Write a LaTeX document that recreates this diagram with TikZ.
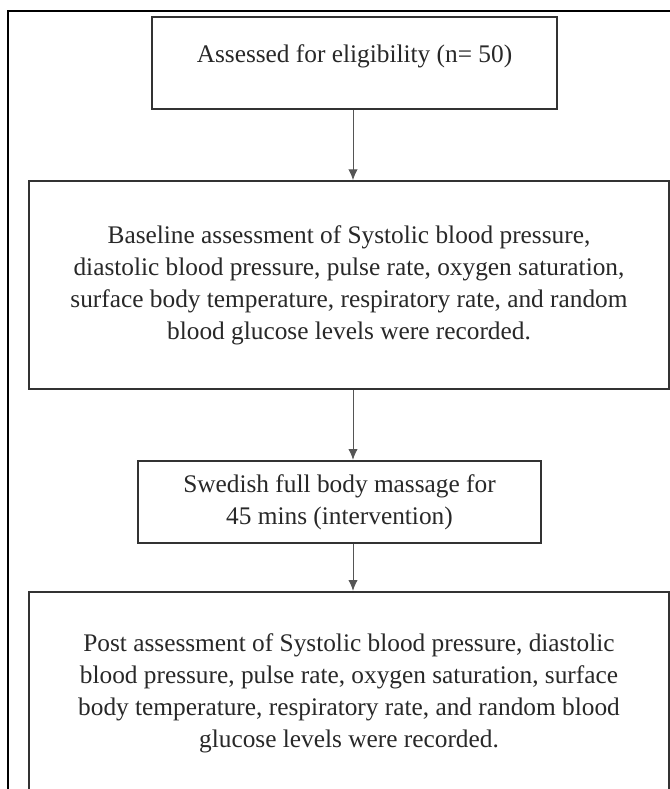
\documentclass[tikz,border=0pt]{standalone}
\usepackage{fontspec}
\setmainfont{Liberation Serif}
\usetikzlibrary{shapes,arrows.meta}

\begin{document}
\begin{tikzpicture}[x=0.75pt,y=0.75pt,yscale=-1,xscale=1,
  flowbox/.style={draw={rgb, 255:red, 51; green, 51; blue, 51},line width=1.4pt,fill=white,
    align=center,inner sep=0pt,text={rgb, 255:red, 40; green, 40; blue, 40},
    font=\fontsize{19}{24}\selectfont},
  flowarrow/.style={draw={rgb, 255:red, 85; green, 85; blue, 85},line width=0.7pt,
    -{Latex[length=8pt,width=7pt]}}]
%set diagram size to the page: 670 x 789
\useasboundingbox (0,0) rectangle (670,789);

%Shape: Outer frame
\draw [line width=1.5pt] (8,800) -- (8,11) -- (680,11) ;

%Flowchart: Process
\node [flowbox,text depth=14pt,minimum width=303.75pt,minimum height=69pt] (eligible) at (354.5,63)
  {Assessed for eligibility (n= 50)};
%Flowchart: Process
\node [flowbox,minimum width=480pt,minimum height=156pt] (baseline) at (349,285)
  {Baseline assessment of Systolic blood pressure,\\
   diastolic blood pressure, pulse rate, oxygen saturation,\\
   surface body temperature, respiratory rate, and random\\
   blood glucose levels were recorded.};
%Flowchart: Process
\node [flowbox,minimum width=302.25pt,minimum height=62pt] (massage) at (339.5,502)
  {Swedish full body massage for\\ 45 mins (intervention)};
%Flowchart: Process
\node [flowbox,minimum width=480pt,minimum height=152pt] (post) at (349,693)
  {Post assessment of Systolic blood pressure, diastolic\\
   blood pressure, pulse rate, oxygen saturation, surface\\
   body temperature, respiratory rate, and random blood\\
   glucose levels were recorded.};

%Straight Lines
\draw [flowarrow] (eligible.south -| 353,0) -- (baseline.north -| 353,0) ;
\draw [flowarrow] (baseline.south -| 353,0) -- (massage.north -| 353,0) ;
\draw [flowarrow] (massage.south -| 353,0) -- (post.north -| 353,0) ;

\end{tikzpicture}
\end{document}
